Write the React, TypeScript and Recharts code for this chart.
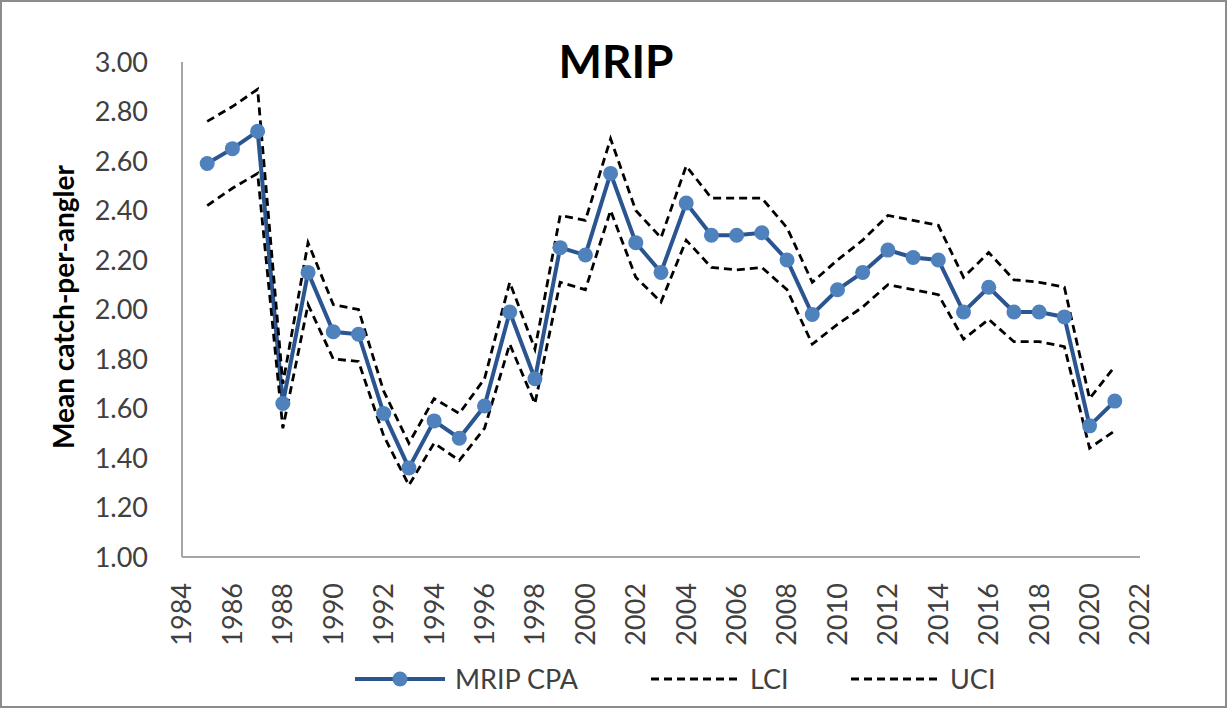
import { LineChart, Line, XAxis, YAxis, Legend } from 'recharts'

const YEARS = [
  1985, 1986, 1987, 1988, 1989, 1990, 1991, 1992, 1993, 1994, 1995, 1996, 1997,
  1998, 1999, 2000, 2001, 2002, 2003, 2004, 2005, 2006, 2007, 2008, 2009, 2010,
  2011, 2012, 2013, 2014, 2015, 2016, 2017, 2018, 2019, 2020, 2021,
]

const MRIP_CPA = [
  2.59, 2.65, 2.72, 1.62, 2.15, 1.91, 1.9, 1.58, 1.36, 1.55, 1.48, 1.61, 1.99,
  1.72, 2.25, 2.22, 2.55, 2.27, 2.15, 2.43, 2.3, 2.3, 2.31, 2.2, 1.98, 2.08,
  2.15, 2.24, 2.21, 2.2, 1.99, 2.09, 1.99, 1.99, 1.97, 1.53, 1.63,
]

const LCI = [
  2.42, 2.49, 2.55, 1.52, 2.02, 1.8, 1.79, 1.49, 1.29, 1.46, 1.39, 1.52, 1.86,
  1.62, 2.11, 2.08, 2.4, 2.13, 2.03, 2.28, 2.17, 2.16, 2.17, 2.08, 1.86, 1.94,
  2.01, 2.1, 2.08, 2.06, 1.88, 1.96, 1.87, 1.87, 1.85, 1.44, 1.51,
]

const UCI = [
  2.76, 2.82, 2.89, 1.7, 2.27, 2.02, 2.0, 1.67, 1.46, 1.64, 1.58, 1.72, 2.11,
  1.84, 2.38, 2.36, 2.69, 2.4, 2.29, 2.58, 2.45, 2.45, 2.45, 2.33, 2.11, 2.2,
  2.28, 2.38, 2.36, 2.34, 2.13, 2.23, 2.12, 2.11, 2.09, 1.64, 1.77,
]

const X_TICKS = [
  1984, 1986, 1988, 1990, 1992, 1994, 1996, 1998, 2000, 2002, 2004, 2006, 2008,
  2010, 2012, 2014, 2016, 2018, 2020, 2022,
]
const Y_TICKS = [1.0, 1.2, 1.4, 1.6, 1.8, 2.0, 2.2, 2.4, 2.6, 2.8, 3.0]

const FONT = 'Lato, "Open Sans", sans-serif'
const LINE_BLUE = '#2a5590'
const DOT_BLUE = '#4f81bd'
const AXIS_GREY = '#a6a6a6'
const TEXT_GREY = '#404040'

const chartData = YEARS.map((year, i) => ({
  year,
  cpa: MRIP_CPA[i],
  lci: LCI[i],
  uci: UCI[i],
}))

// year labels read bottom-to-top
const YearTick = ({ x, y, payload }: any) => (
  <text
    x={x}
    y={y}
    dy="0.35em"
    transform={`rotate(-90 ${x} ${y})`}
    textAnchor="end"
    fill={TEXT_GREY}
    fontSize={27}
    fontFamily={FONT}
  >
    {payload.value}
  </text>
)

const DashIcon = () => (
  <svg width={88} height={20}>
    <line x1={0} y1={10} x2={88} y2={10} stroke="#000" strokeWidth={2.8} strokeDasharray="8 5" />
  </svg>
)

const renderLegend = () => (
  <div style={{ display: 'flex', alignItems: 'center', fontFamily: FONT, fontSize: 27, color: TEXT_GREY }}>
    <div style={{ width: 296, display: 'flex', alignItems: 'center' }}>
      <svg width={90} height={20}>
        <line x1={0} y1={10} x2={90} y2={10} stroke={LINE_BLUE} strokeWidth={4} />
        <circle cx={45} cy={10} r={7.5} fill={DOT_BLUE} />
      </svg>
      <span style={{ marginLeft: 10 }}>MRIP CPA</span>
    </div>
    <div style={{ width: 200, display: 'flex', alignItems: 'center' }}>
      <DashIcon />
      <span style={{ marginLeft: 11 }}>LCI</span>
    </div>
    <div style={{ width: 200, display: 'flex', alignItems: 'center' }}>
      <DashIcon />
      <span style={{ marginLeft: 11 }}>UCI</span>
    </div>
  </div>
)

export default function App() {
  return (
    <div style={{ position: 'absolute', left: 0, top: 0, width: 1227, height: 708, background: '#fff' }}>
      <LineChart
        width={1227}
        height={708}
        data={chartData}
        margin={{ top: 62, right: 87, left: 0, bottom: 51 }}
      >
        <XAxis
          dataKey="year"
          type="number"
          domain={[1984, 2022]}
          ticks={X_TICKS}
          interval={0}
          height={100}
          tickSize={0}
          tickMargin={26}
          tick={<YearTick />}
          axisLine={{ stroke: AXIS_GREY, strokeWidth: 2 }}
          tickLine={false}
        />
        <YAxis
          type="number"
          domain={[1, 3]}
          ticks={Y_TICKS}
          interval={0}
          width={182}
          tickSize={0}
          tickMargin={34}
          tickFormatter={(v: number) => v.toFixed(2)}
          tick={{ fill: TEXT_GREY, fontSize: 27, fontFamily: FONT }}
          axisLine={{ stroke: AXIS_GREY, strokeWidth: 2 }}
          tickLine={false}
          label={{
            content: () => (
              <text
                x={63}
                y={307}
                transform="rotate(-90 63 307)"
                textAnchor="middle"
                dominantBaseline="central"
                fontFamily={FONT}
                fontWeight="bold"
                fontSize={28}
                fill="#000"
              >
                Mean catch-per-angler
              </text>
            ),
          }}
        />
        <Legend
          layout="horizontal"
          verticalAlign="middle"
          align="center"
          content={renderLegend}
          wrapperStyle={{ top: 662, left: 355, width: 760 }}
        />
        <Line
          dataKey="cpa"
          name="MRIP CPA"
          stroke={LINE_BLUE}
          strokeWidth={4}
          dot={{ r: 7.5, fill: DOT_BLUE, stroke: DOT_BLUE, strokeWidth: 0 }}
          activeDot={false}
          isAnimationActive={false}
        />
        <Line
          dataKey="lci"
          name="LCI"
          stroke="#000"
          strokeWidth={2.8}
          strokeDasharray="8 5"
          dot={false}
          activeDot={false}
          isAnimationActive={false}
        />
        <Line
          dataKey="uci"
          name="UCI"
          stroke="#000"
          strokeWidth={2.8}
          strokeDasharray="8 5"
          dot={false}
          activeDot={false}
          isAnimationActive={false}
        />
      </LineChart>
      <div
        style={{
          position: 'absolute',
          left: 0,
          top: 36,
          width: 1232,
          textAlign: 'center',
          fontFamily: FONT,
          fontWeight: 'bold',
          fontSize: 46,
          lineHeight: '50px',
          color: '#000',
        }}
      >
        MRIP
      </div>
      <div
        style={{
          position: 'absolute',
          inset: 0,
          border: '2px solid #8c8c8c',
          pointerEvents: 'none',
        }}
      />
    </div>
  )
}
